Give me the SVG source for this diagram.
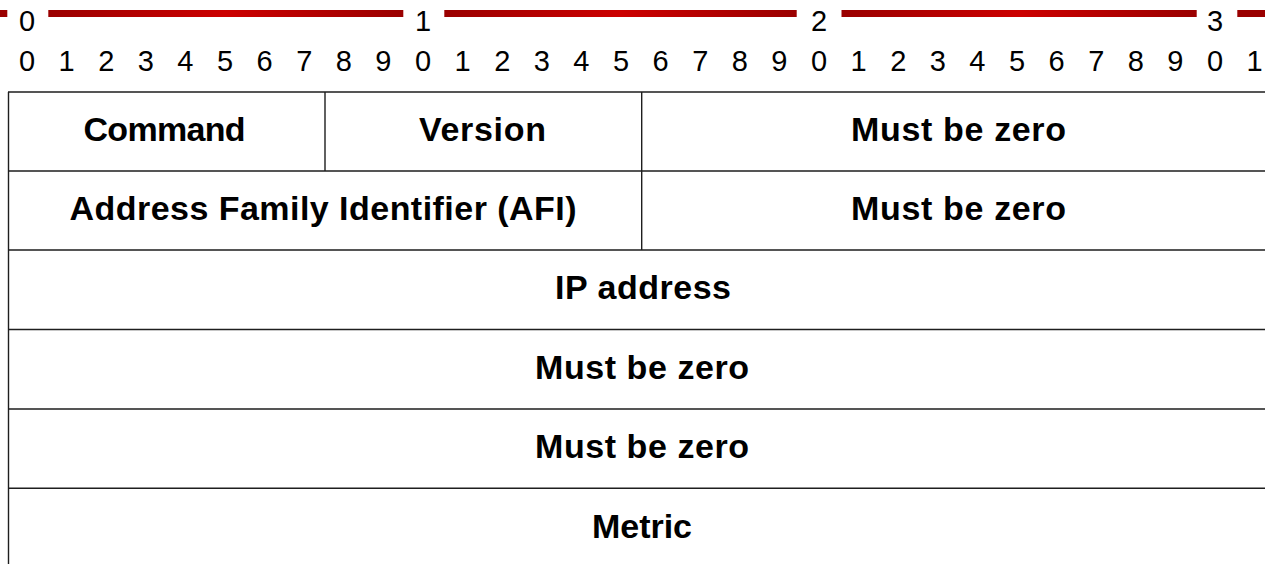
<svg xmlns="http://www.w3.org/2000/svg" width="1265" height="564" viewBox="0 0 1265 564">
<defs>
<linearGradient id="bar" x1="0" y1="0" x2="1" y2="0">
<stop offset="0" stop-color="#9a0000"/>
<stop offset="0.5" stop-color="#cc0000"/>
<stop offset="1" stop-color="#9a0000"/>
</linearGradient>
</defs>
<style>
.bar{fill:url(#bar)}
.dk{fill:#9a0000}
.num{font-family:"Liberation Sans",Arial,sans-serif;font-size:29px;fill:#000;text-anchor:middle}
.lbl{font-family:"Liberation Sans",Arial,sans-serif;font-size:34px;font-weight:bold;fill:#000;text-anchor:middle}
.ln{stroke:#1e1e1e;stroke-width:1.4;fill:none}
</style>
<g id="ruler">
<rect class="dk" x="0" y="10" width="7.3" height="7"/>
<rect class="bar" x="48.3" y="10" width="355" height="7"/>
<rect class="bar" x="444.3" y="10" width="352.4" height="7"/>
<rect class="bar" x="841.5" y="10" width="355.2" height="7"/>
<rect class="dk" x="1237.3" y="10" width="28" height="7"/>
<text class="num" x="27" y="31">0</text>
<text class="num" x="423" y="31">1</text>
<text class="num" x="819" y="31">2</text>
<text class="num" x="1215" y="31">3</text>
<g id="bits">
<text class="num" x="27" y="71">0</text>
<text class="num" x="66.6" y="71">1</text>
<text class="num" x="106.2" y="71">2</text>
<text class="num" x="145.8" y="71">3</text>
<text class="num" x="185.4" y="71">4</text>
<text class="num" x="225" y="71">5</text>
<text class="num" x="264.6" y="71">6</text>
<text class="num" x="304.2" y="71">7</text>
<text class="num" x="343.8" y="71">8</text>
<text class="num" x="383.4" y="71">9</text>
<text class="num" x="423" y="71">0</text>
<text class="num" x="462.6" y="71">1</text>
<text class="num" x="502.2" y="71">2</text>
<text class="num" x="541.8" y="71">3</text>
<text class="num" x="581.4" y="71">4</text>
<text class="num" x="621" y="71">5</text>
<text class="num" x="660.6" y="71">6</text>
<text class="num" x="700.2" y="71">7</text>
<text class="num" x="739.8" y="71">8</text>
<text class="num" x="779.4" y="71">9</text>
<text class="num" x="819" y="71">0</text>
<text class="num" x="858.6" y="71">1</text>
<text class="num" x="898.2" y="71">2</text>
<text class="num" x="937.8" y="71">3</text>
<text class="num" x="977.4" y="71">4</text>
<text class="num" x="1017" y="71">5</text>
<text class="num" x="1056.6" y="71">6</text>
<text class="num" x="1096.2" y="71">7</text>
<text class="num" x="1135.8" y="71">8</text>
<text class="num" x="1175.4" y="71">9</text>
<text class="num" x="1215" y="71">0</text>
<text class="num" x="1254.6" y="71">1</text>
</g>
</g>
<g id="connectors">
<path class="ln" d="M8 92H1265M8 171H1265M8 250H1265M8 329.5H1265M8 409H1265M8 488.3H1265"/>
<path class="ln" d="M8.5 92V564M325 92V171M641.7 92V250"/>
</g>
<g id="command"><text class="lbl" x="164.5" y="141" textLength="162" lengthAdjust="spacing">Command</text></g>
<g id="version"><text class="lbl" x="482.5" y="141" textLength="127" lengthAdjust="spacing">Version</text></g>
<g id="mbz1"><text class="lbl" x="958.5" y="141" textLength="215" lengthAdjust="spacing">Must be zero</text></g>
<g id="afi"><text class="lbl" x="323" y="220" textLength="507" lengthAdjust="spacing">Address Family Identifier (AFI)</text></g>
<g id="mbz2"><text class="lbl" x="958.5" y="220" textLength="215" lengthAdjust="spacing">Must be zero</text></g>
<g id="ip"><text class="lbl" x="643" y="299" textLength="176" lengthAdjust="spacing">IP address</text></g>
<g id="mbz3"><text class="lbl" x="642" y="378.5" textLength="214" lengthAdjust="spacing">Must be zero</text></g>
<g id="mbz4"><text class="lbl" x="642" y="458" textLength="214" lengthAdjust="spacing">Must be zero</text></g>
<g id="metric"><text class="lbl" x="642" y="537.5" textLength="100" lengthAdjust="spacing">Metric</text></g>
</svg>
